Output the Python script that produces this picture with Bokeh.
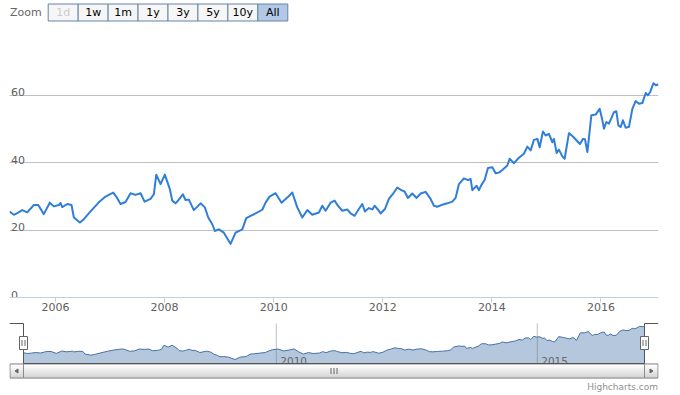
from bokeh.plotting import figure
from bokeh.layouts import column
from bokeh.models import Range1d, FixedTicker
from bokeh.core.properties import value
from bokeh.embed import file_html
from bokeh.resources import INLINE

# ---- data (decimal years, closing prices) ----
years = [2005.156, 2005.235, 2005.298, 2005.389, 2005.481, 2005.602, 2005.683, 2005.785, 2005.895, 2005.969,
         2006.061, 2006.092, 2006.123, 2006.215, 2006.293, 2006.336, 2006.446, 2006.519, 2006.642, 2006.794,
         2006.917, 2006.977, 2007.058, 2007.113, 2007.192, 2007.284, 2007.375, 2007.467, 2007.559, 2007.632,
         2007.742, 2007.803, 2007.847, 2007.926, 2008.004, 2008.096, 2008.140, 2008.201, 2008.261, 2008.334,
         2008.384, 2008.444, 2008.536, 2008.659, 2008.738, 2008.800, 2008.874, 2008.921, 2008.995, 2009.086,
         2009.149, 2009.209, 2009.301, 2009.424, 2009.497, 2009.576, 2009.668, 2009.791, 2009.851, 2009.924,
         2010.034, 2010.144, 2010.249, 2010.341, 2010.432, 2010.524, 2010.616, 2010.707, 2010.829, 2010.891,
         2010.951, 2011.043, 2011.116, 2011.177, 2011.258, 2011.349, 2011.410, 2011.483, 2011.562, 2011.624,
         2011.672, 2011.745, 2011.808, 2011.850, 2011.929, 2011.960, 2012.039, 2012.112, 2012.204, 2012.266,
         2012.340, 2012.400, 2012.461, 2012.541, 2012.620, 2012.694, 2012.785, 2012.877, 2012.937, 2013.000,
         2013.092, 2013.183, 2013.275, 2013.335, 2013.396, 2013.488, 2013.561, 2013.611, 2013.642, 2013.720,
         2013.763, 2013.807, 2013.867, 2013.928, 2014.008, 2014.069, 2014.129, 2014.192, 2014.283, 2014.326,
         2014.405, 2014.496, 2014.588, 2014.650, 2014.711, 2014.771, 2014.834, 2014.876, 2014.936, 2014.986,
         2015.046, 2015.109, 2015.138, 2015.188, 2015.230, 2015.292, 2015.334, 2015.413, 2015.486, 2015.567,
         2015.615, 2015.670, 2015.707, 2015.751, 2015.824, 2015.903, 2015.976, 2016.026, 2016.055, 2016.099,
         2016.147, 2016.238, 2016.282, 2016.319, 2016.361, 2016.403, 2016.453, 2016.514, 2016.576, 2016.636,
         2016.697, 2016.759, 2016.820, 2016.860, 2016.903, 2016.963, 2017.007, 2017.055]

prices = [25.5, 24.5, 25.0, 25.9, 25.2, 27.4, 27.4, 24.7, 28.1, 27.0,
          27.4, 28.0, 26.8, 27.7, 27.4, 23.7, 22.2, 23.2, 25.5, 28.2,
          29.9, 30.4, 31.1, 29.9, 27.7, 28.3, 30.9, 30.4, 30.9, 28.4,
          29.2, 30.6, 36.4, 33.6, 36.4, 32.1, 28.7, 27.9, 29.0, 30.6,
          28.9, 29.0, 25.9, 27.9, 26.7, 23.7, 21.7, 19.7, 20.2, 19.2,
          17.5, 15.9, 19.2, 20.2, 23.5, 24.2, 24.9, 26.0, 28.1, 29.9,
          30.9, 28.1, 29.6, 31.1, 26.7, 23.7, 25.9, 24.5, 25.2, 27.2,
          25.7, 28.1, 28.7, 27.2, 25.7, 26.1, 24.9, 24.2, 26.2, 27.7,
          25.5, 26.5, 26.1, 27.2, 25.7, 24.9, 26.2, 29.2, 31.1, 32.6,
          31.8, 31.4, 29.5, 30.8, 29.5, 30.8, 31.3, 29.2, 27.2, 26.9,
          27.5, 27.9, 28.4, 29.5, 33.6, 35.3, 34.8, 35.1, 31.8, 33.1,
          31.8, 33.3, 34.8, 38.4, 38.6, 36.8, 37.0, 37.8, 39.1, 41.1,
          39.8, 41.4, 42.6, 44.7, 43.6, 46.7, 47.0, 44.5, 49.2, 48.0,
          48.5, 46.0, 47.0, 42.8, 43.8, 41.8, 41.1, 48.7, 47.7, 46.3,
          45.5, 47.0, 46.9, 43.1, 54.0, 54.2, 55.9, 52.5, 50.0, 52.0,
          51.5, 54.9, 55.2, 51.0, 50.5, 52.5, 50.3, 50.6, 55.9, 58.2,
          57.4, 57.6, 60.6, 59.9, 60.9, 63.5, 62.9, 63.2]

y_grid_values = [0, 20, 40, 60, 80]
y_tick_labels = ["0", "20", "40", "60"]
y_tick_values = [0, 20, 40, 60]
x_tick_years = [2006, 2008, 2010, 2012, 2014, 2016]
nav_tick_years = [2010, 2015]
nav_tick_labels = ["2010", "2015"]
buttons = ["1d", "1w", "1m", "1y", "3y", "5y", "10y", "All"]
selected_button = "All"
disabled_button = "1d"

FONT = value("DejaVu Sans")
W = 680
PLOT_L, PLOT_R = 9, 658          # every figure uses the same frame: x 9..658
x0, x1 = years[0], years[-1]


def base_fig(**kw):
    f = figure(output_backend="svg", toolbar_location=None, min_border=0,
               min_border_left=PLOT_L, min_border_right=W - PLOT_R,
               x_axis_location=None, y_axis_location=None, **kw)
    f.grid.visible = False
    f.outline_line_color = None
    f.background_fill_color = "white"
    f.border_fill_color = "white"
    return f


# ---- range selector buttons (pixel coordinates inside frame 9..658) ----
fb = base_fig(width=W, height=27, x_range=Range1d(PLOT_L, PLOT_R), y_range=Range1d(27, 0))
fb.text(x=[9.5], y=[11.5], text=["Zoom"], text_font=FONT, text_font_size="11px",
        text_color="#666666", text_baseline="middle", text_align="left")
bw = 29.95
bl = [47.7 + i * bw for i in range(len(buttons))]
br = [v + bw for v in bl]
fills = ["#b3c8e6" if b == selected_button else "#f6f6f6" for b in buttons]
fb.quad(left=bl, right=br, top=3.5, bottom=20.5, fill_color=fills, line_color="#6685a6", line_width=1)
tcol = ["#cccccc" if b == disabled_button else "#000000" for b in buttons]
fb.text(x=[(a + b) / 2 for a, b in zip(bl, br)], y=[12] * len(buttons), text=buttons,
        text_font=FONT, text_font_size="11px", text_color=tcol,
        text_align="center", text_baseline="middle")

# ---- main chart ----
p = figure(width=W, height=294, x_range=Range1d(x0, x1), y_range=Range1d(0, 80),
           output_backend="svg", toolbar_location=None,
           min_border_left=PLOT_L, min_border_right=W - PLOT_R, min_border_top=0,
           min_border_bottom=24)
p.outline_line_color = None
p.yaxis.visible = False
p.yaxis.ticker = FixedTicker(ticks=y_grid_values)
p.ygrid.ticker = FixedTicker(ticks=y_grid_values)
p.ygrid.grid_line_color = "#C0C0C0"
p.xgrid.visible = False
p.xaxis.ticker = FixedTicker(ticks=x_tick_years)
p.xaxis.axis_line_color = "#C0D0E0"
p.xaxis.major_tick_line_color = "#C0D0E0"
p.xaxis.major_tick_out = 5
p.xaxis.major_tick_in = 0
p.xaxis.minor_tick_line_color = None
p.xaxis.major_label_standoff = 0
p.xaxis.major_label_text_font = "DejaVu Sans"
p.xaxis.major_label_text_font_size = "11px"
p.xaxis.major_label_text_color = "#606060"

p.line(years, prices, line_color="#2f7ed8", line_width=2, line_join="round")
p.text(x=[x0] * len(y_tick_values), y=y_tick_values, text=y_tick_labels,
       x_offset=1.5, y_offset=-3, text_font=FONT, text_font_size="11px",
       text_color="#606060", text_align="left", text_baseline="alphabetic")

# ---- navigator + scrollbar + credits (one figure, y 321..395) ----
NAV_L, NAV_R = PLOT_L + 14, PLOT_R - 14      # navigator series spans 23..644 px
NAV_TOP, NAV_BOT = 323, 363
TOP, BOT = 321, 395
k = (x1 - x0) / (NAV_R - NAV_L)      # data units per pixel
nav_lo, nav_hi = 10.2, 67.5          # value range shown in the navigator
u = (nav_hi - nav_lo) / (NAV_BOT - NAV_TOP)
fn = base_fig(width=W, height=BOT - TOP,
              x_range=Range1d(x0 - 14 * k, x1 + 14 * k),
              y_range=Range1d(nav_lo - (BOT - NAV_BOT) * u, nav_hi + (NAV_TOP - TOP) * u))
fn.extra_x_ranges = {"px": Range1d(PLOT_L, PLOT_R)}
fn.extra_y_ranges = {"py": Range1d(BOT, TOP)}

fn.segment(x0=nav_tick_years, y0=nav_lo, x1=nav_tick_years, y1=nav_hi,
           line_color="#C0C0C0", line_width=1)
fn.varea(x=years, y1=nav_lo, y2=prices, fill_color="#4572A7", fill_alpha=0.4)
fn.line(years, prices, line_color="#4572A7", line_width=1)
fn.text(x=nav_tick_years, y=[nav_lo] * 2, text=nav_tick_labels, x_offset=4, y_offset=-3,
        text_font=FONT, text_font_size="10.5px", text_color="#666666",
        text_align="left", text_baseline="alphabetic")

# scrollbar (pixel coordinates)
SB_T, SB_B = NAV_BOT + 0.5, NAV_BOT + 14.5
fn.quad(left=[PLOT_L + 0.5], right=[PLOT_R - 0.5], top=SB_T, bottom=SB_B, fill_color="#f4f4f4",
        line_color="#cccccc", x_range_name="px", y_range_name="py")
n_band = 7
band_h = (SB_B - SB_T) / n_band
band_cols = []
for i in range(n_band):
    c = int(255 - (255 - 214) * i / (n_band - 1))
    band_cols.append("#%02x%02x%02x" % (c, c, c))
segs = [(PLOT_L + 0.5, NAV_L), (NAV_L, NAV_R), (NAV_R, PLOT_R - 0.5)]
for (l, r) in segs:
    fn.quad(left=[l] * n_band, right=[r] * n_band,
            top=[SB_T + i * band_h for i in range(n_band)],
            bottom=[SB_T + (i + 1) * band_h for i in range(n_band)],
            fill_color=band_cols, line_color=None, x_range_name="px", y_range_name="py")
    fn.quad(left=[l], right=[r], top=SB_T, bottom=SB_B, fill_color=None, line_color="#8a8a8a",
            x_range_name="px", y_range_name="py")
cy = (SB_T + SB_B) / 2
lx, rx = (PLOT_L + NAV_L) / 2, (NAV_R + PLOT_R) / 2
fn.patches(xs=[[lx - 1.5, lx + 1.5, lx + 1.5], [rx + 1.5, rx - 1.5, rx - 1.5]],
           ys=[[cy, cy - 2, cy + 2], [cy, cy - 2, cy + 2]], fill_color="#666666",
           line_color="#666666", x_range_name="px", y_range_name="py")
mid = (NAV_L + NAV_R) / 2
fn.segment(x0=[mid - 3, mid, mid + 3], y0=cy - 3, x1=[mid - 3, mid, mid + 3], y1=cy + 3,
           line_color="#666666", line_width=1, x_range_name="px", y_range_name="py")

# navigator outline and handles
fn.line(x=[x0 - 14 * k, x0, x0, x1, x1, x1 + 14 * k],
        y=[nav_hi, nav_hi, nav_lo, nav_lo, nav_hi, nav_hi], line_color="#555555", line_width=1)
nav_mid = nav_lo + 20.5 * u
for hx in (x0, x1):
    fn.rect(x=[hx], y=[nav_mid], width=8, height=13, width_units="screen", height_units="screen",
            fill_color="#ffffff", line_color="#666666", line_width=1)
    fn.segment(x0=[hx - 1.5 * k, hx + 1.5 * k], y0=nav_mid - 3 * u,
               x1=[hx - 1.5 * k, hx + 1.5 * k], y1=nav_mid + 3 * u,
               line_color="#666666", line_width=1)

fn.text(x=[657.5], y=[386.5], text=["Highcharts.com"], text_font=FONT, text_font_size="9px",
        text_color="#909090", text_align="right", text_baseline="alphabetic",
        x_range_name="px", y_range_name="py")

layout = column(fb, p, fn, spacing=0)
open("out.html", "w").write(file_html(layout, INLINE))
